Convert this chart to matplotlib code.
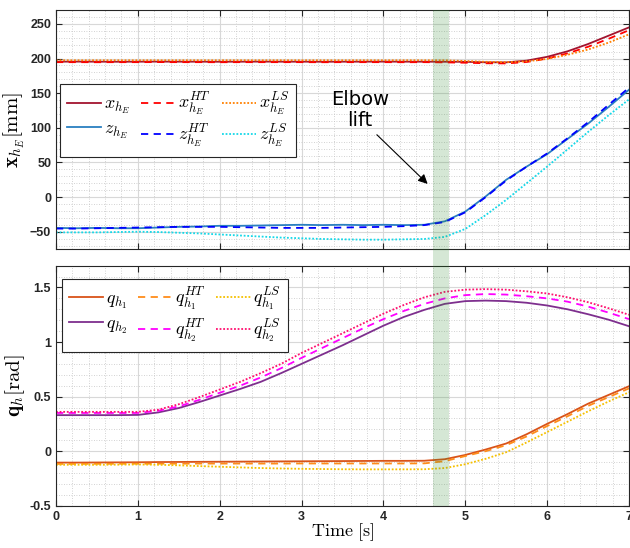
import numpy as np
import matplotlib
matplotlib.use("Agg")
import matplotlib.pyplot as plt
from matplotlib.ticker import MultipleLocator
from matplotlib.patches import Rectangle
from matplotlib.transforms import blended_transform_factory

plt.rcParams['mathtext.fontset'] = 'cm'
plt.rcParams['font.family'] = ['Liberation Sans', 'DejaVu Sans']

# time samples [s]
t = [0.0, 0.25, 0.5, 0.75, 1.0, 1.25, 1.5, 1.75, 2.0, 2.25, 2.5, 2.75, 3.0, 3.25,
     3.5, 3.75, 4.0, 4.25, 4.5, 4.75, 5.0, 5.25, 5.5, 5.75, 6.0, 6.25, 6.5, 6.75, 7.0]

# hand position [mm]
x_h = [195.5, 195.6, 195.5, 195.4, 195.5, 195.6, 195.5, 195.5, 195.4, 195.5, 195.6, 195.5,
       195.5, 195.4, 195.5, 195.5, 195.6, 195.5, 195.5, 195.4, 195.3, 194.6, 194.5, 197.0,
       202.5, 210.5, 221.0, 233.0, 245.0]
x_ht = [194.8, 194.8, 194.7, 194.8, 194.8, 194.9, 194.8, 194.8, 194.7, 194.8, 194.8, 194.8,
        194.8, 194.7, 194.8, 194.8, 194.8, 194.7, 194.8, 194.5, 194.0, 193.2, 193.0, 195.0,
        200.0, 207.5, 217.0, 228.5, 241.0]
x_ls = [197.5, 197.5, 197.5, 197.5, 197.5, 197.5, 197.5, 197.5, 197.5, 197.5, 197.5, 197.5,
        197.5, 197.5, 197.5, 197.5, 197.5, 197.5, 197.5, 197.4, 196.5, 195.3, 194.8, 196.0,
        199.5, 205.5, 213.0, 223.0, 235.0]
z_h = [-44.5, -45.0, -44.5, -45.0, -45.0, -44.0, -43.0, -42.5, -41.5, -41.5, -41.0, -40.5,
       -40.0, -40.5, -40.0, -40.5, -40.0, -40.5, -40.0, -35.0, -21.0, 1.0, 25.0, 44.0,
       62.0, 84.0, 106.0, 130.0, 155.0]
z_ht = [-45.5, -45.5, -45.0, -44.5, -44.0, -43.5, -43.0, -43.0, -43.0, -43.5, -44.0, -44.5,
        -44.5, -44.5, -44.0, -43.5, -43.0, -42.0, -40.5, -36.0, -22.0, 0.0, 24.0, 44.0,
        63.0, 85.0, 108.0, 133.0, 158.0]
z_ls = [-51.0, -51.0, -51.0, -50.5, -50.0, -50.5, -51.5, -52.5, -54.0, -55.5, -57.0, -58.5,
        -59.5, -60.5, -61.0, -61.5, -61.5, -61.0, -60.5, -57.5, -46.0, -26.0, -4.0, 20.0,
        44.0, 69.0, 94.0, 118.0, 141.0]

# joint angles [rad]
q1 = [-0.105, -0.105, -0.104, -0.103, -0.102, -0.100, -0.099, -0.098, -0.097, -0.096,
      -0.095, -0.094, -0.093, -0.092, -0.091, -0.090, -0.089, -0.089, -0.088, -0.074,
      -0.035, 0.015, 0.070, 0.155, 0.250, 0.340, 0.435, 0.515, 0.595]
q1_ht = [-0.117, -0.117, -0.116, -0.116, -0.115, -0.115, -0.115, -0.114, -0.114, -0.114,
         -0.114, -0.114, -0.113, -0.113, -0.113, -0.113, -0.113, -0.113, -0.112, -0.092,
         -0.045, 0.000, 0.055, 0.135, 0.230, 0.320, 0.415, 0.495, 0.575]
q1_ls = [-0.125, -0.125, -0.125, -0.124, -0.122, -0.125, -0.130, -0.137, -0.143, -0.149,
         -0.155, -0.159, -0.162, -0.164, -0.166, -0.167, -0.167, -0.167, -0.166, -0.155,
         -0.120, -0.070, -0.010, 0.080, 0.175, 0.270, 0.365, 0.455, 0.540]
q2 = [0.330, 0.330, 0.330, 0.330, 0.332, 0.355, 0.395, 0.450, 0.510, 0.570, 0.635, 0.715,
      0.800, 0.885, 0.970, 1.060, 1.150, 1.230, 1.295, 1.350, 1.375, 1.380, 1.375, 1.360,
      1.335, 1.300, 1.255, 1.205, 1.145]
q2_ht = [0.350, 0.350, 0.350, 0.350, 0.350, 0.370, 0.410, 0.470, 0.535, 0.600, 0.675, 0.760,
         0.855, 0.945, 1.035, 1.125, 1.210, 1.285, 1.350, 1.400, 1.430, 1.440, 1.435, 1.420,
         1.400, 1.370, 1.325, 1.270, 1.210]
q2_ls = [0.360, 0.360, 0.360, 0.360, 0.360, 0.380, 0.430, 0.495, 0.565, 0.635, 0.715, 0.800,
         0.900, 0.990, 1.080, 1.170, 1.260, 1.340, 1.410, 1.460, 1.480, 1.485, 1.480, 1.465,
         1.445, 1.410, 1.365, 1.310, 1.250]

lift_start, lift_end = 4.6, 4.8

fig = plt.figure(figsize=(6.3, 5.48), dpi=100)
ax1 = fig.add_axes([0.0889, 0.5456, 0.9095, 0.436])
ax2 = fig.add_axes([0.0889, 0.0772, 0.9095, 0.438])

lw = 1.3
l1, = ax1.plot(t, x_h, color='#A2142F', lw=lw, label=r'$x_{h_E}$')
l2, = ax1.plot(t, x_ht, color='#FF0000', lw=lw, ls=(0, (4, 3)), label=r'$x_{h_E}^{HT}$')
l3, = ax1.plot(t, x_ls, color='#FF8000', lw=lw, ls=(0, (1, 1)), label=r'$x_{h_E}^{LS}$')
l4, = ax1.plot(t, z_h, color='#2A7FC0', lw=lw, label=r'$z_{h_E}$')
l5, = ax1.plot(t, z_ht, color='#0000FF', lw=lw, ls=(0, (4, 3)), label=r'$z_{h_E}^{HT}$')
l6, = ax1.plot(t, z_ls, color='#15D8E8', lw=lw, ls=(0, (1, 1)), label=r'$z_{h_E}^{LS}$')

m1, = ax2.plot(t, q1, color='#D95319', lw=lw, label=r'$q_{h_1}$')
m2, = ax2.plot(t, q1_ht, color='#FF8C1A', lw=lw, ls=(0, (4, 3)), label=r'$q_{h_1}^{HT}$')
m3, = ax2.plot(t, q1_ls, color='#F5C000', lw=lw, ls=(0, (1, 1)), label=r'$q_{h_1}^{LS}$')
m4, = ax2.plot(t, q2, color='#7E2F8E', lw=lw, label=r'$q_{h_2}$')
m5, = ax2.plot(t, q2_ht, color='#FF00FF', lw=lw, ls=(0, (4, 3)), label=r'$q_{h_2}^{HT}$')
m6, = ax2.plot(t, q2_ls, color='#FF1070', lw=lw, ls=(0, (1, 1)), label=r'$q_{h_2}^{LS}$')

for ax in (ax1, ax2):
    ax.set_xlim(0, 7)
    ax.xaxis.set_major_locator(MultipleLocator(1))
    ax.xaxis.set_minor_locator(MultipleLocator(0.2))
    ax.grid(True, which='major', color='#d8d8d8', lw=0.8)
    ax.grid(True, which='minor', color='#c4c4c4', lw=0.6, ls=(0, (1, 2)))
    ax.set_axisbelow(True)
    ax.tick_params(which='both', direction='in', top=True, right=True,
                   labelsize=9, colors='#262626')
    ax.tick_params(which='major', length=4, width=0.8)
    ax.tick_params(which='minor', length=0)
    for s in ax.spines.values():
        s.set_color('#262626')
        s.set_linewidth(0.8)

ax1.set_ylim(-75, 270)
ax1.yaxis.set_major_locator(MultipleLocator(50))
ax1.yaxis.set_minor_locator(MultipleLocator(10))
ax1.tick_params(labelbottom=False)
ax1.set_ylabel(r'$\mathbf{x}_{h_E}[\mathrm{mm}]$', fontsize=15, labelpad=2)

ax2.set_ylim(-0.5, 1.7)
ax2.yaxis.set_major_locator(MultipleLocator(0.5))
ax2.yaxis.set_minor_locator(MultipleLocator(0.1))
ax2.set_yticks([-0.5, 0, 0.5, 1, 1.5])
ax2.set_yticklabels(['-0.5', '0', '0.5', '1', '1.5'])
ax2.set_ylabel(r'$\mathbf{q}_h[\mathrm{rad}]$', fontsize=15, labelpad=2)
ax2.set_xlabel(r'$\mathrm{Time\ [s]}$', fontsize=13, labelpad=-1)

for ax in (ax1, ax2):
    for lab in ax.get_xticklabels() + ax.get_yticklabels():
        lab.set_fontweight('bold')

leg_kw = dict(ncol=3, loc='upper left', fontsize=13, handlelength=1.9,
              handletextpad=0.15, columnspacing=0.6, borderaxespad=0,
              fancybox=False, framealpha=1, edgecolor='#262626',
              borderpad=0.38, labelspacing=0.25)
lg1 = ax1.legend([l1, l4, l2, l5, l3, l6],
                 [h.get_label() for h in (l1, l4, l2, l5, l3, l6)],
                 bbox_to_anchor=(0.007, 0.69), **leg_kw)
lg2 = ax2.legend([m1, m4, m2, m5, m3, m6],
                 [h.get_label() for h in (m1, m4, m2, m5, m3, m6)],
                 bbox_to_anchor=(0.0105, 0.945), **leg_kw)
for lg in (lg1, lg2):
    lg.get_frame().set_linewidth(0.8)

# elbow lift band over both panels
trans = blended_transform_factory(ax2.transData, fig.transFigure)
fig.patches.append(Rectangle((lift_start, 0.0772), lift_end - lift_start,
                             0.9816 - 0.0772, transform=trans,
                             facecolor='#2e8b2e', alpha=0.2, edgecolor='none', zorder=3))

ax1.text(3.71, 126, 'Elbow\nlift', ha='center', va='center', fontsize=14,
         family='DejaVu Sans', linespacing=1.15)
ax1.annotate('', xy=(4.54, 19), xytext=(3.92, 90),
             arrowprops=dict(arrowstyle='-|>', color='black', lw=0.8,
                             mutation_scale=14, shrinkA=0, shrinkB=0))

fig.savefig('out.png', dpi=100)
